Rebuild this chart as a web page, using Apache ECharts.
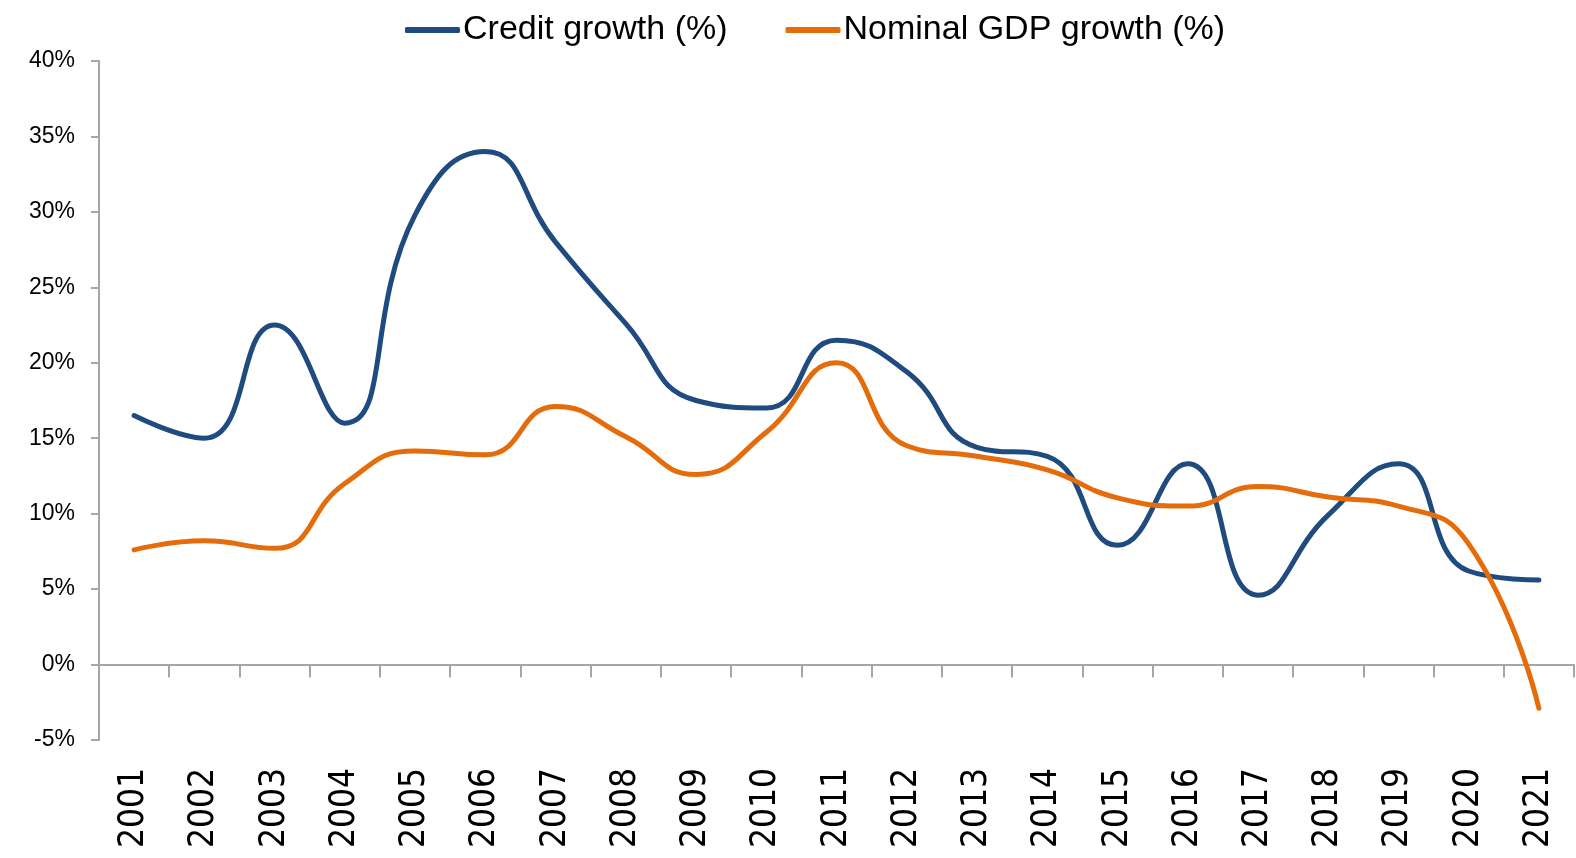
<!DOCTYPE html>
<html>
<head>
<meta charset="utf-8">
<script src="https://cdn.jsdelivr.net/npm/echarts@6/dist/echarts.min.js"></script>
<style>
  html, body { margin: 0; padding: 0; background: #ffffff; }
  #chart { width: 1576px; height: 858px; }
</style>
</head>
<body>
<div id="chart"></div>
<script>
const years = ['2001','2002','2003','2004','2005','2006','2007','2008','2009','2010','2011','2012','2013','2014','2015','2016','2017','2018','2019','2020','2021'];
const creditGrowth = [16.5, 15.0, 22.5, 16.0, 29.8, 34.0, 28.0, 22.6, 17.5, 17.0, 21.5, 19.4, 14.4, 13.8, 7.9, 13.3, 4.6, 9.9, 13.3, 6.2, 5.6];
const nominalGdpGrowth = [7.6, 8.2, 7.7, 12.0, 14.15, 13.9, 17.1, 15.1, 12.6, 15.4, 20.0, 14.5, 13.8, 12.9, 11.05, 10.5, 11.8, 11.1, 10.5, 8.0, -2.9];
const seriesNames = ['Credit growth (%)', 'Nominal GDP growth (%)'];
const yTicks = { min: -5, max: 40, interval: 5 };

const chart = echarts.init(document.getElementById('chart'), null, { renderer: 'canvas' });
const axisGray = '#a6a6a6';
const option = {
  backgroundColor: '#ffffff',
  animation: false,
  color: ['#1f4b7f', '#e46c0a'],
  legend: {
    data: seriesNames,
    left: 400,
    top: 8,
    icon: 'roundRect',
    itemWidth: 55,
    itemHeight: 6,
    itemGap: 58,
    textStyle: { fontFamily: 'Liberation Sans, Arial, sans-serif', fontSize: 34, color: '#000000', padding: [0, 0, 0, -2] }
  },
  grid: { left: 99, right: 2, top: 61, bottom: 118, containLabel: false },
  xAxis: [
    {
      type: 'category',
      data: years,
      boundaryGap: true,
      axisLine: { onZero: true, lineStyle: { color: axisGray, width: 2 } },
      axisTick: { show: true, inside: false, length: 13, alignWithLabel: false, lineStyle: { color: axisGray, width: 2 } },
      axisLabel: { show: false },
      splitLine: { show: false }
    },
    {
      type: 'category',
      data: years,
      position: 'bottom',
      boundaryGap: true,
      axisLine: { show: false, onZero: false },
      axisTick: { show: false },
      axisLabel: {
        show: true,
        rotate: 90,
        margin: 28,
        interval: 0,
        fontFamily: 'DejaVu Sans Condensed, DejaVu Sans, sans-serif',
        fontSize: 35,
        color: '#000000'
      },
      splitLine: { show: false }
    }
  ],
  yAxis: {
    type: 'value',
    min: yTicks.min,
    max: yTicks.max,
    interval: yTicks.interval,
    axisLine: { show: true, lineStyle: { color: axisGray, width: 2 } },
    axisTick: { show: true, length: 8, lineStyle: { color: axisGray, width: 2 } },
    axisLabel: {
      formatter: v => v + '%',
      margin: 24,
      fontFamily: 'Liberation Sans, Arial, sans-serif',
      fontSize: 23,
      color: '#000000'
    },
    splitLine: { show: false }
  },
  series: [
    {
      name: seriesNames[0],
      type: 'line',
      xAxisIndex: 0,
      data: creditGrowth,
      smooth: 0.5,
      symbol: 'none',
      lineStyle: { width: 5, cap: 'round', join: 'round' }
    },
    {
      name: seriesNames[1],
      type: 'line',
      xAxisIndex: 0,
      data: nominalGdpGrowth,
      smooth: 0.5,
      symbol: 'none',
      lineStyle: { width: 5, cap: 'round', join: 'round' }
    }
  ]
};
chart.setOption(option);
</script>
</body>
</html>
